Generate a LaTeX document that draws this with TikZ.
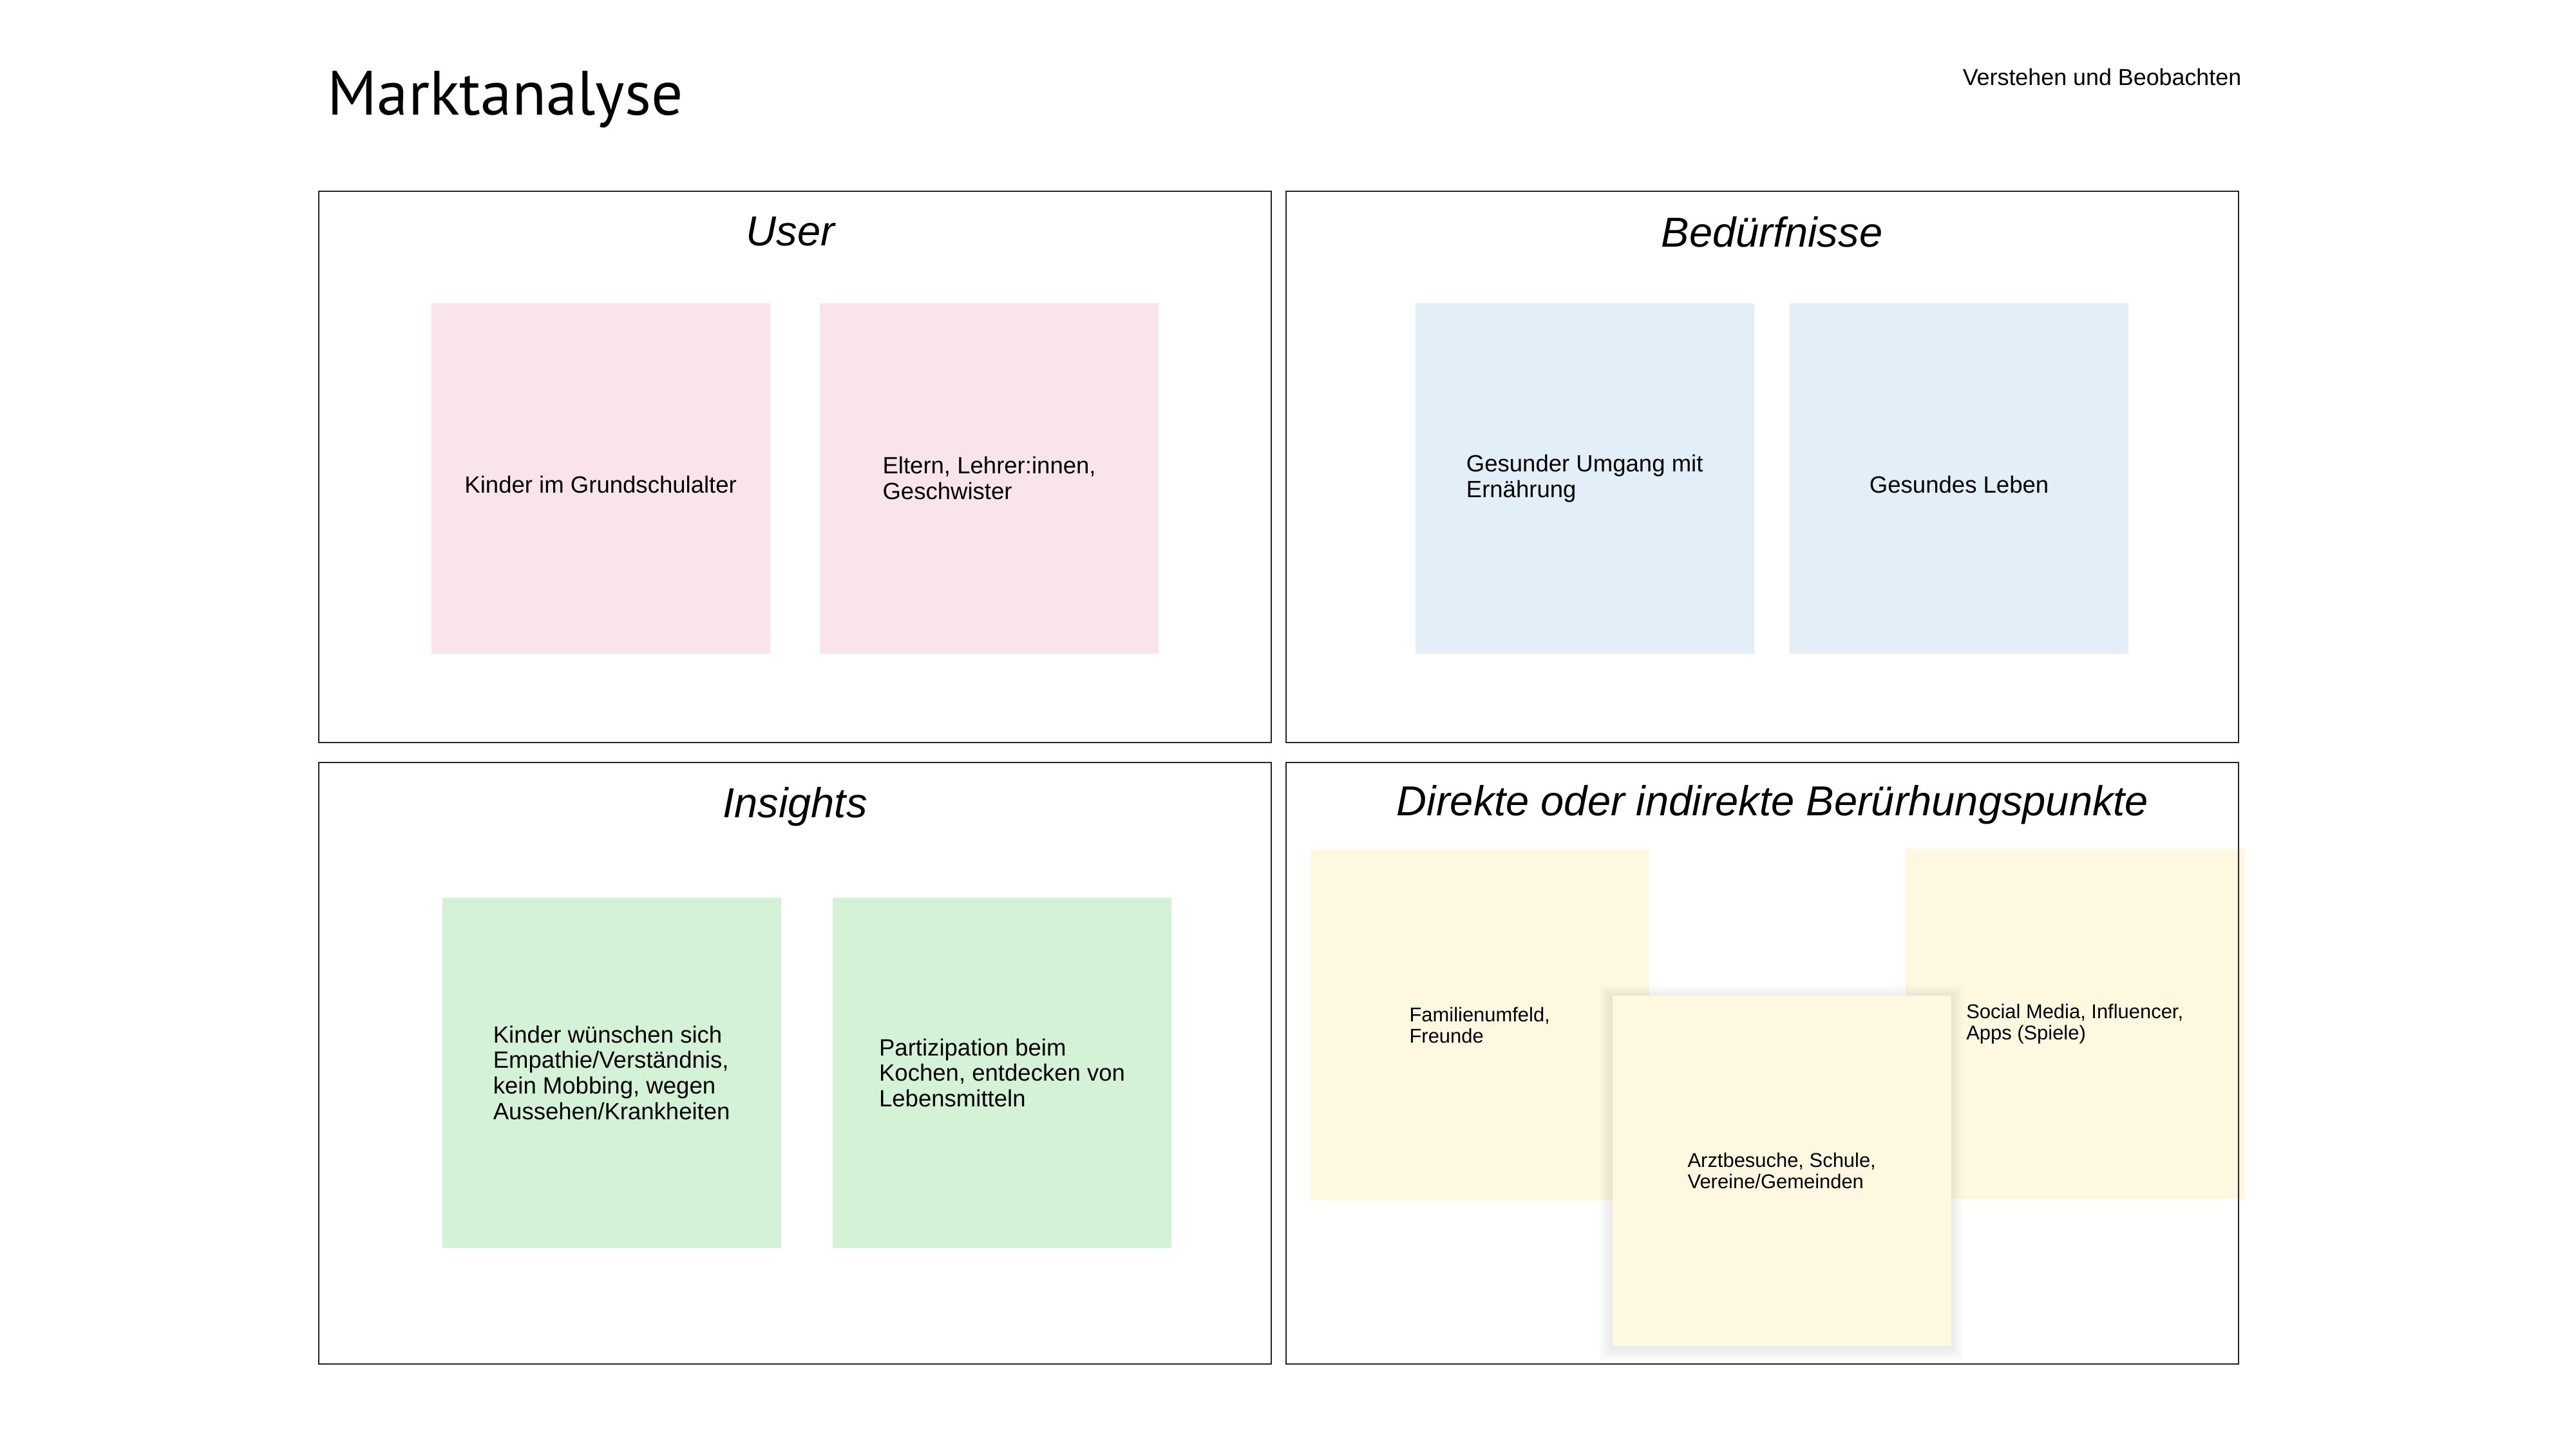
\documentclass[tikz,border=0pt]{standalone}
\usepackage{fontspec}
\setmainfont{Liberation Sans}
\newfontfamily\headfont{PT Sans}
\usetikzlibrary{positioning}

\definecolor{notepink}{RGB}{249,228,236}
\definecolor{noteblue}{RGB}{226,239,248}
\definecolor{notegreen}{RGB}{212,242,213}
\definecolor{noteyellow}{RGB}{254,248,225}

\tikzset{
  panel/.style={draw=black!85, line width=0.7pt, minimum width=14.79cm, inner sep=0pt},
  paneltitle/.style={font=\itshape\fontsize{18.5}{22}\selectfont, anchor=base, inner sep=0pt},
  sticky/.style={minimum width=5.26cm, minimum height=5.44cm, inner sep=0pt, align=left,
    font=\fontsize{10.4}{11.3}\selectfont},
  smallsticky/.style={sticky, fill=noteyellow, font=\fontsize{8.8}{9.5}\selectfont},
}

\begin{document}
\begin{tikzpicture}[node distance=0.76cm]
  \useasboundingbox (0,0) rectangle (40,-22.5);

  % header
  \node[anchor=base west, inner sep=0pt, font=\headfont\fontsize{27.7}{33}\selectfont] (head) at (5.08,-1.79) {Marktanalyse};
  \node[anchor=east, inner sep=0pt, font=\fontsize{10.2}{12}\selectfont] (sub) at (34.81,-1.2) {Verstehen und Beobachten};

  % sticky notes
  \node[sticky, fill=notepink, anchor=north west] (kinder) at (6.69,-4.70) {\raisebox{-0.1cm}[\height][\depth]{Kinder im Grundschulalter}};
  \node[sticky, fill=notepink, right=0.76cm of kinder] (eltern) {Eltern, Lehrer:innen,\\Geschwister};
  \node[sticky, fill=noteblue, anchor=north west] (umgang) at (21.97,-4.70) {Gesunder Umgang mit\\Ernährung};
  \node[sticky, fill=noteblue, right=0.54cm of umgang] (leben) {\raisebox{-0.1cm}[\height][\depth]{Gesundes Leben}};
  \node[sticky, fill=notegreen, anchor=north west] (empathie) at (6.86,-13.93) {Kinder wünschen sich\\Empathie/Verständnis,\\kein Mobbing, wegen\\Aussehen/Krankheiten};
  \node[sticky, fill=notegreen, right=0.79cm of empathie] (kochen) {Partizipation beim\\Kochen, entdecken von\\Lebensmitteln};
  \node[smallsticky, anchor=north west] (familie) at (20.34,-13.19) {Familienumfeld,\\Freunde};
  \node[smallsticky, anchor=north west] (medien) at (29.58,-13.17) {Social Media, Influencer,\\Apps (Spiele)};

  % soft shadow under the front note
  \coordinate (arztcorner) at (25.03,-15.45);
  \foreach \s in {1,...,10}
    \fill[black, opacity=0.007]
      ([shift={(-\s*0.02,\s*0.02-0.04)}]arztcorner) rectangle
      ([shift={(5.26+\s*0.02,-5.44-\s*0.02-0.04)}]arztcorner);
  \node[smallsticky, anchor=north west] (arzt) at (arztcorner) {Arztbesuche, Schule,\\Vereine/Gemeinden};

  % panels
  \node[panel, minimum height=8.56cm] (user) at (12.345,-7.25) {};
  \node[panel, minimum height=8.56cm] (bed) at (27.365,-7.25) {};
  \node[panel, minimum height=9.34cm] (ins) at (12.345,-16.51) {};
  \node[panel, minimum height=9.34cm] (punkte) at (27.365,-16.51) {};

  \node[paneltitle] (usertitle) at ([xshift=-0.07cm, yshift=-0.86cm]user.north) {User};
  \node[paneltitle] (bedtitle) at ([xshift=0.15cm, yshift=-0.88cm]bed.north) {Bedürfnisse};
  \node[paneltitle] (institle) at ([yshift=-0.87cm]ins.north) {Insights};
  \node[paneltitle] (punktetitle) at ([xshift=0.16cm, yshift=-0.84cm]punkte.north) {Direkte oder indirekte Berürhungspunkte};
\end{tikzpicture}
\end{document}
